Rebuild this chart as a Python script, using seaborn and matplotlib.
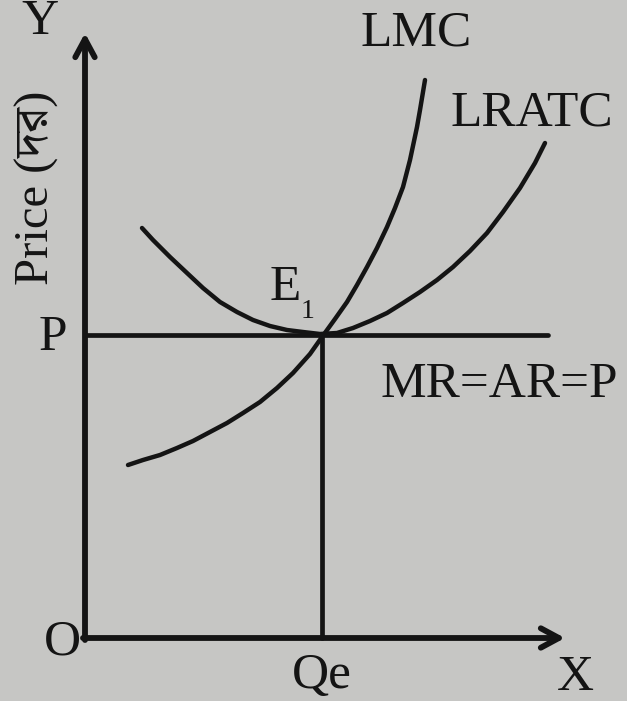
import numpy as np
import pandas as pd
import matplotlib
matplotlib.use('Agg')
import matplotlib.pyplot as plt
import seaborn as sns

# values (quantity, price units)
lratc_q = [1.14, 1.36, 1.70, 2.04, 2.36, 2.70, 3.04, 3.36, 3.70, 4.04, 4.36, 4.70, 5.04,
           5.36, 5.70, 6.04, 6.36, 6.70, 7.04, 7.36, 7.70, 8.04, 8.36, 8.70, 9.00, 9.20]
lratc_p = [8.20, 7.96, 7.62, 7.30, 7.00, 6.72, 6.52, 6.36, 6.24, 6.16, 6.12, 6.08, 6.10,
           6.20, 6.34, 6.50, 6.70, 6.92, 7.16, 7.42, 7.74, 8.10, 8.52, 9.00, 9.50, 9.90]
lmc_q = [0.86, 1.16, 1.50, 1.84, 2.16, 2.50, 2.84, 3.16, 3.50, 3.84, 4.16, 4.50, 4.74,
         5.00, 5.24, 5.44, 5.64, 5.84, 6.04, 6.20, 6.36, 6.50, 6.64, 6.70, 6.80]
lmc_p = [3.46, 3.56, 3.66, 3.80, 3.94, 4.12, 4.30, 4.50, 4.72, 5.00, 5.30, 5.68, 6.02,
         6.38, 6.72, 7.06, 7.42, 7.80, 8.22, 8.60, 9.02, 9.56, 10.22, 10.56, 11.16]
price_p = 6.06
qty_e = 4.74
price_line_end = 9.26
x_axis_end = 9.6
y_axis_end = 12.1

ink = '#141414'
paper = '#c6c6c4'

sns.set_style('white')
plt.rcParams['font.family'] = ['Liberation Serif', 'DejaVu Serif']

fig = plt.figure(figsize=(6.27, 7.01), dpi=100)
fig.patch.set_facecolor(paper)
ax = fig.add_axes([0, 0, 1, 1])
ax.set_facecolor(paper)
ax.set_xlim(-1.7, 10.84)
ax.set_ylim(-1.26, 12.76)
ax.axis('off')

curves = pd.DataFrame({
    'q': lratc_q + lmc_q,
    'p': lratc_p + lmc_p,
    'curve': ['LRATC'] * len(lratc_q) + ['LMC'] * len(lmc_q),
})
sns.lineplot(data=curves, x='q', y='p', units='curve', estimator=None,
             sort=False, color=ink, lw=3.2, ax=ax, legend=False,
             solid_capstyle='round', solid_joinstyle='round')

# price line and equilibrium quantity
sns.lineplot(x=[0, price_line_end], y=[price_p, price_p], color=ink, lw=3.4, ax=ax)
ax.plot([qty_e, qty_e], [0, price_p], color=ink, lw=3.4)

# axes with arrows
arrow = dict(arrowstyle='->,head_length=1.3,head_width=0.7', color=ink, lw=4.2,
             shrinkA=0, shrinkB=0)
ax.annotate('', xy=(0, y_axis_end), xytext=(0, -0.04), arrowprops=arrow)
ax.annotate('', xy=(x_axis_end, 0), xytext=(-0.04, 0), arrowprops=arrow)

fs = 37
ax.text(-0.9, 12.32, 'Y', fontsize=fs, color=ink, ha='center', va='center')
ax.text(-0.46, -0.08, 'O', fontsize=fs, color=ink, ha='center', va='center')
ax.text(-0.64, price_p - 0.06, 'P', fontsize=fs, color=ink, ha='center', va='center')
ax.text(qty_e, -0.76, 'Qe', fontsize=fs, color=ink, ha='center', va='center')
ax.text(9.8, -0.8, 'X', fontsize=fs, color=ink, ha='center', va='center')
ax.text(5.5, 12.1, 'LMC', fontsize=fs, color=ink, ha='left', va='center')
ax.text(7.3, 10.5, 'LRATC', fontsize=fs, color=ink, ha='left', va='center')
ax.text(5.9, 5.06, 'MR=AR=P', fontsize=fs, color=ink, ha='left', va='center')
ax.text(4.0, 7.0, 'E', fontsize=fs, color=ink, ha='center', va='center')
ax.text(4.46, 6.52, '1', fontsize=20, color=ink, ha='center', va='center')
ax.text(-0.96, 9.0, 'Price (দর)', fontsize=35, color=ink, rotation=90,
        ha='center', va='center',
        family=['Liberation Serif', 'Noto Serif Bengali', 'Noto Sans Bengali',
                'Lohit Bengali', 'FreeSerif', 'DejaVu Sans'])

fig.savefig('out.png', dpi=100, facecolor=paper)
